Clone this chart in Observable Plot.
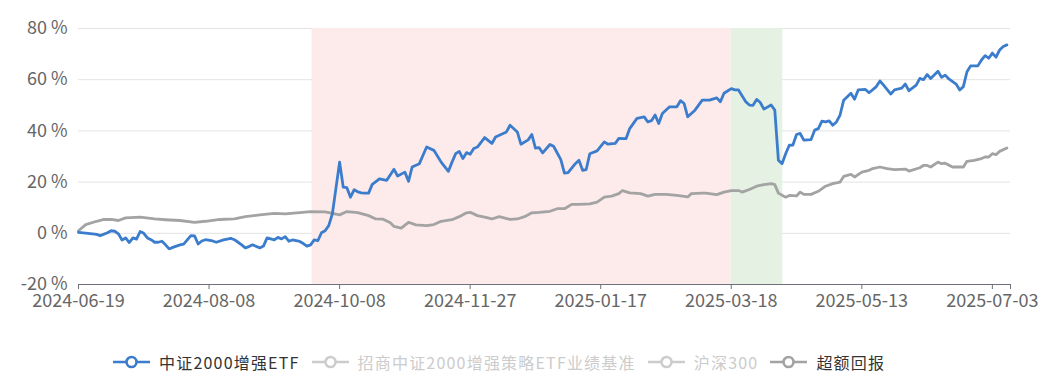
<!DOCTYPE html>
<html><head><meta charset="utf-8">
<script src="https://cdn.jsdelivr.net/npm/d3@7"></script>
<script src="https://cdn.jsdelivr.net/npm/@observablehq/plot@0.6"></script>
<style>
body{margin:0;background:#fff;}
#wrap{position:relative;width:1057px;height:385px;overflow:hidden;}
#legend{position:absolute;left:113px;top:350px;height:24px;display:flex;align-items:center;font-family:"Noto Sans CJK SC","Noto Sans",sans-serif;font-size:16px;letter-spacing:1.2px;white-space:nowrap;}
.item{display:flex;align-items:center;margin-right:12px;}
.item svg{margin-right:9px;display:block;}
</style></head>
<body><div id="wrap"><div id="chart"></div><div id="legend"></div></div>
<script>
// trading-day index (0 = 2024-06-19) and cumulative return in %
const etfSeries = [[0,0.4],[2,0.1],[5,-0.4],[6,-0.9],[8,0.2],[9,1.0],[10,0.8],[11,-0.2],[12,-2.6],[13,-1.8],[14,-3.6],[15,-1.8],[16,-2.3],[17,0.7],[18,0.0],[19,-1.8],[20,-2.5],[21,-3.5],[22,-3.5],[23,-3.1],[24,-4.5],[25,-6.1],[26,-5.5],[28,-4.5],[29,-4.2],[31,-0.9],[32,-1.0],[33,-4.2],[34,-3.0],[35,-2.5],[37,-3.0],[38,-3.5],[40,-2.6],[42,-2.0],[43,-2.5],[44,-3.5],[45,-4.5],[46,-5.7],[47,-5.2],[48,-4.5],[50,-5.7],[51,-5.0],[52,-1.8],[54,-2.6],[55,-1.6],[56,-2.2],[57,-1.3],[58,-3.1],[59,-2.6],[61,-3.2],[62,-4.0],[63,-5.0],[64,-4.5],[65,-2.6],[66,-2.9],[67,0.2],[68,1.0],[69,3.0],[70,7.6],[72,27.8],[73,18.0],[74,17.8],[75,14.1],[76,17.0],[77,16.2],[78,15.8],[79,15.7],[80,15.7],[81,19.1],[83,21.3],[85,20.7],[87,25.0],[88,22.4],[90,23.9],[91,20.3],[92,25.9],[94,27.2],[95,30.5],[96,33.7],[98,32.4],[100,27.8],[102,24.2],[103,27.8],[104,31.1],[105,32.0],[106,29.2],[107,31.5],[108,30.9],[109,33.1],[110,33.7],[112,37.4],[114,35.1],[115,37.6],[118,39.6],[119,42.2],[121,39.6],[122,34.8],[124,36.5],[125,38.6],[126,33.3],[127,33.5],[128,31.4],[130,34.7],[131,34.0],[133,28.8],[134,23.5],[135,23.7],[137,27.2],[138,28.5],[139,24.6],[140,24.9],[141,31.1],[143,32.2],[145,35.7],[146,34.8],[148,35.1],[149,37.1],[151,37.0],[152,40.9],[154,44.9],[156,45.5],[157,43.5],[158,44.0],[159,46.2],[160,42.9],[161,46.8],[163,49.4],[165,49.4],[166,51.8],[167,50.7],[168,45.5],[170,48.1],[172,52.0],[174,52.0],[176,52.9],[177,51.4],[178,54.7],[180,56.5],[181,56.0],[182,56.0],[184,51.4],[185,50.1],[186,50.0],[187,52.3],[188,51.1],[189,48.5],[191,50.1],[192,48.1],[193,28.5],[194,27.2],[195,31.1],[196,34.4],[197,34.5],[198,38.6],[199,39.0],[200,36.4],[202,36.6],[203,40.3],[204,40.9],[205,43.8],[206,43.5],[207,43.9],[208,42.2],[209,43.5],[210,46.2],[211,52.0],[213,54.7],[214,52.4],[215,56.0],[217,56.2],[218,54.9],[220,57.3],[221,59.5],[222,57.9],[224,54.4],[225,56.0],[227,56.7],[228,58.3],[229,55.7],[231,57.9],[232,60.5],[233,60.0],[234,62.0],[235,60.5],[237,63.3],[238,60.9],[239,61.8],[240,60.3],[242,58.3],[243,56.0],[244,57.3],[245,63.1],[246,65.4],[248,65.4],[249,67.7],[250,69.4],[251,68.4],[252,70.4],[253,68.8],[254,71.6],[255,73.0],[256,73.6]];
const excessSeries = [[0,1.0],[2,3.4],[5,4.7],[7,5.4],[9,5.4],[11,5.0],[13,6.0],[17,6.3],[21,5.6],[24,5.3],[28,5.0],[32,4.3],[35,4.7],[39,5.4],[43,5.6],[46,6.5],[50,7.2],[54,7.8],[57,7.6],[61,8.1],[64,8.5],[68,8.4],[70,7.8],[72,7.2],[74,8.5],[77,8.1],[80,6.9],[82,5.6],[84,5.5],[86,4.1],[87,2.7],[89,2.0],[91,4.3],[93,3.3],[96,3.0],[98,3.4],[100,4.7],[103,5.3],[105,6.5],[107,8.0],[108,8.2],[110,6.9],[112,6.3],[114,5.6],[116,6.5],[119,5.4],[121,5.6],[123,6.5],[125,8.0],[127,8.2],[130,8.6],[132,9.6],[134,9.6],[136,11.3],[138,11.3],[141,11.5],[143,12.2],[145,14.1],[147,14.5],[149,15.5],[150,16.7],[152,15.8],[155,15.5],[157,14.5],[159,15.2],[162,15.2],[165,14.8],[168,14.2],[169,15.5],[172,15.7],[173,15.7],[176,15.1],[178,16.1],[180,16.7],[182,16.7],[183,16.1],[185,17.1],[187,18.4],[189,19.0],[191,19.4],[192,19.0],[193,15.7],[195,14.1],[196,14.8],[198,14.6],[199,16.1],[200,15.2],[202,15.2],[204,16.4],[206,18.4],[208,19.4],[210,20.0],[211,22.2],[213,23.0],[214,22.0],[216,23.9],[218,24.6],[219,25.3],[221,25.9],[223,25.3],[225,24.9],[228,25.1],[229,24.3],[232,25.6],[233,26.5],[234,26.5],[235,25.9],[237,27.8],[238,27.2],[239,27.4],[241,25.9],[244,25.9],[245,28.1],[247,28.5],[249,29.2],[250,29.8],[251,29.8],[252,31.1],[253,30.7],[254,32.0],[256,33.3]];

const tickDays = [0, 36, 72, 108, 144, 180, 216, 252];
const tickLabels = ["2024-06-19","2024-08-08","2024-10-08","2024-11-27","2025-01-17","2025-03-18","2025-05-13","2025-07-03"];
const lastDay = 257;
const yTicks = [-20, 0, 20, 40, 60, 80];

const regionStart = [64.4, 180];
const regionEnd = [180, 194.2];
const regionFill = ["#fdeaea", "#e4f1e3"];

const seriesNames = ["中证2000增强ETF", "招商中证2000增强策略ETF业绩基准", "沪深300", "超额回报"];
const seriesColors = ["#3b7dcc", "#cccccc", "#cccccc", "#a3a3a3"];
const seriesTextColors = ["#333333", "#cccccc", "#cccccc", "#333333"];

const etf = etfSeries.map(([d, v]) => ({d, v}));
const excess = excessSeries.map(([d, v]) => ({d, v}));
const labelOf = new Map(tickDays.map((d, i) => [d, tickLabels[i]]));

const chart = Plot.plot({
  width: 1057, height: 335,
  marginLeft: 78, marginRight: 47, marginTop: 28, marginBottom: 51,
  x: {domain: [0, lastDay]},
  y: {domain: [-20, 80]},
  style: {fontFamily: "'Noto Sans CJK SC','Noto Sans',sans-serif", fontSize: "18px", background: "white", color: "#666"},
  marks: [
    Plot.gridY(yTicks, {stroke: "#e3e3e3", strokeOpacity: 1, strokeWidth: 1}),
    ...regionStart.map((s, i) => Plot.rect([i], {x1: j => regionStart[j], x2: j => regionEnd[j], fill: regionFill[i]})),
    Plot.ruleY([-20], {stroke: "#6e7079", strokeWidth: 1}),
    Plot.axisX({ticks: [...tickDays, lastDay], tickFormat: d => labelOf.get(d) ?? "", tickSize: 5, tickPadding: 5, fontSize: 18, stroke: "#6e7079", fill: "#666", label: null}),
    Plot.axisY({ticks: yTicks, tickFormat: d => `${d} %`, tickSize: 0, tickPadding: 11, fontSize: 18, fill: "#666", label: null}),
    Plot.line(excess, {x: "d", y: "v", stroke: seriesColors[3], strokeWidth: 2.8, strokeLinejoin: "round"}),
    Plot.line(etf, {x: "d", y: "v", stroke: seriesColors[0], strokeWidth: 2.8, strokeLinejoin: "round"})
  ]
});
document.getElementById("chart").appendChild(chart);

const legend = document.getElementById("legend");
seriesNames.forEach((name, i) => {
  const item = document.createElement("div");
  item.className = "item";
  const c = seriesColors[i];
  item.innerHTML = `<svg width="37" height="14"><line x1="0" y1="7" x2="37" y2="7" stroke="${c}" stroke-width="2.6"/><circle cx="18.5" cy="7" r="5" fill="#fff" stroke="${c}" stroke-width="2.6"/></svg><span style="color:${seriesTextColors[i]}">${name}</span>`;
  legend.appendChild(item);
});
</script>
</body></html>
